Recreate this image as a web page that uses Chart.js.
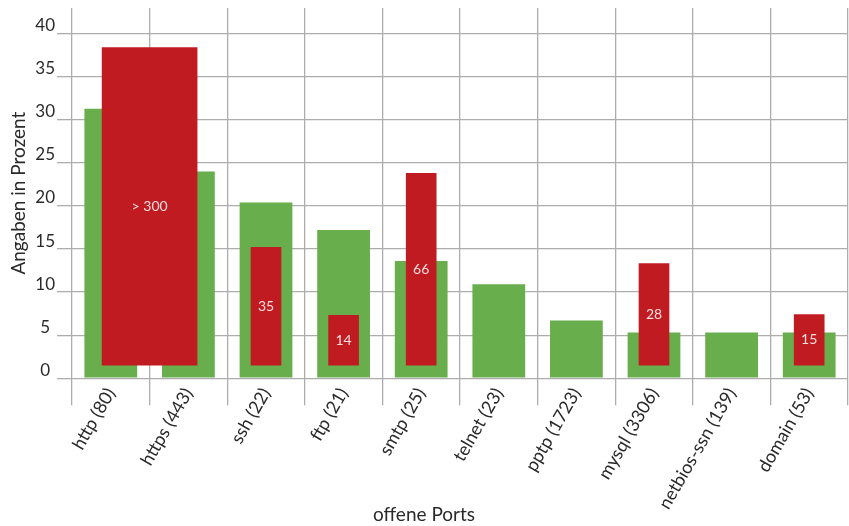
<!DOCTYPE html>
<html><head><meta charset="utf-8">
<script src="https://cdn.jsdelivr.net/npm/chart.js@4/dist/chart.umd.min.js"></script>
<style>html,body{margin:0;padding:0;background:#fff;}</style>
</head><body>
<canvas id="c" width="849" height="526"></canvas>
<script>
// ---- data ----
const categories = ['http (80)','https (443)','ssh (22)','ftp (21)','smtp (25)','telnet (23)','pptp (1723)','mysql (3306)','netbios-ssn (139)','domain (53)'];
const greenValues = [31.3, 24.0, 20.4, 17.2, 13.6, 10.9, 6.7, 5.3, 5.3, 5.3];
// red bars: position in category units (0..10), low and high value, label
const redPositions = [1.0, 2.5, 3.5, 4.5, 7.5, 9.5];
const redLow = [1.5, 1.5, 1.5, 1.5, 1.5, 1.5];
const redHigh = [38.4, 15.2, 7.3, 23.8, 13.3, 7.4];
const redLabels = ['> 300', '35', '14', '66', '28', '15'];
const yTicks = [0, 5, 10, 15, 20, 25, 30, 35, 40];
const yMax = 43;
const xTitle = 'offene Ports';
const yTitle = 'Angaben in Prozent';

// ---- build ----
const FONT = 'Lato';
const TXT = '#2a2a2a';
const GRID = '#adadad';
const GREEN = '#69ae4c';
const RED = '#c11b22';

const redPoints = redPositions.map((x, i) => ({x: x, y: [redLow[i], redHigh[i]]}));

const barLabelPlugin = {
  id: 'barLabels',
  afterDatasetsDraw(chart) {
    const ctx = chart.ctx;
    chart.data.datasets.forEach((ds, di) => {
      if (!ds.barLabels) return;
      const meta = chart.getDatasetMeta(di);
      meta.data.forEach((el, i) => {
        const p = el.getProps(['x', 'y', 'base'], true);
        ctx.save();
        ctx.fillStyle = '#f7dede';
        ctx.font = '14px ' + FONT;
        ctx.textAlign = 'center';
        ctx.textBaseline = 'middle';
        ctx.fillText(ds.barLabels[i], p.x, (p.y + p.base) / 2);
        ctx.restore();
      });
    });
  }
};

Chart.defaults.font.family = FONT;
Chart.defaults.color = TXT;

new Chart(document.getElementById('c'), {
  type: 'bar',
  data: {
    labels: categories,
    datasets: [
      {
        label: 'wide',
        data: redPoints.slice(0, 1),
        barLabels: redLabels.slice(0, 1),
        xAxisID: 'x2',
        backgroundColor: RED,
        barThickness: 95,
        grouped: false,
        order: 1
      },
      {
        label: 'narrow',
        data: redPoints.slice(1),
        barLabels: redLabels.slice(1),
        xAxisID: 'x2',
        backgroundColor: RED,
        barThickness: 30,
        grouped: false,
        order: 1
      },
      {
        label: 'Anteil',
        data: greenValues,
        xAxisID: 'x',
        backgroundColor: GREEN,
        categoryPercentage: 1,
        barPercentage: 0.68,
        grouped: false,
        order: 2
      }
    ]
  },
  options: {
    responsive: false,
    animation: false,
    devicePixelRatio: 1,
    layout: {padding: {top: 8, right: 1, left: 0, bottom: 0}},
    plugins: {
      legend: {display: false},
      tooltip: {enabled: false},
      title: {
        display: true, text: xTitle, position: 'bottom',
        padding: {top: -14, bottom: 0},
        font: {size: 19, weight: 'normal'}, color: TXT
      }
    },
    scales: {
      x: {
        type: 'category',
        offset: true,
        grid: {offset: true, color: GRID, lineWidth: 1.3, tickLength: 27},
        border: {display: false},
        ticks: {minRotation: 60, maxRotation: 60, padding: -21, autoSkip: false, font: {size: 18}, color: TXT},
        afterFit: s => { s.height = 139; s.paddingLeft = 0; s.paddingRight = 0; }
      },
      x2: {type: 'linear', min: 0, max: categories.length, offset: false, grid: {offset: false}, display: false},
      y: {
        min: 0, max: yMax,
        afterBuildTicks: s => { s.ticks = yTicks.map(v => ({value: v})); },
        grid: {color: GRID, lineWidth: 1.3, tickLength: 15},
        border: {display: false},
        ticks: {padding: 2, labelOffset: -8, crossAlign: 'center', font: {size: 17}, color: TXT},
        title: {display: true, text: yTitle, padding: 7, font: {size: 19}, color: TXT},
        afterFit: s => { s.width = 72; s.paddingTop = 0; s.paddingBottom = 0; }
      }
    }
  },
  plugins: [barLabelPlugin]
});
</script>
</body></html>
